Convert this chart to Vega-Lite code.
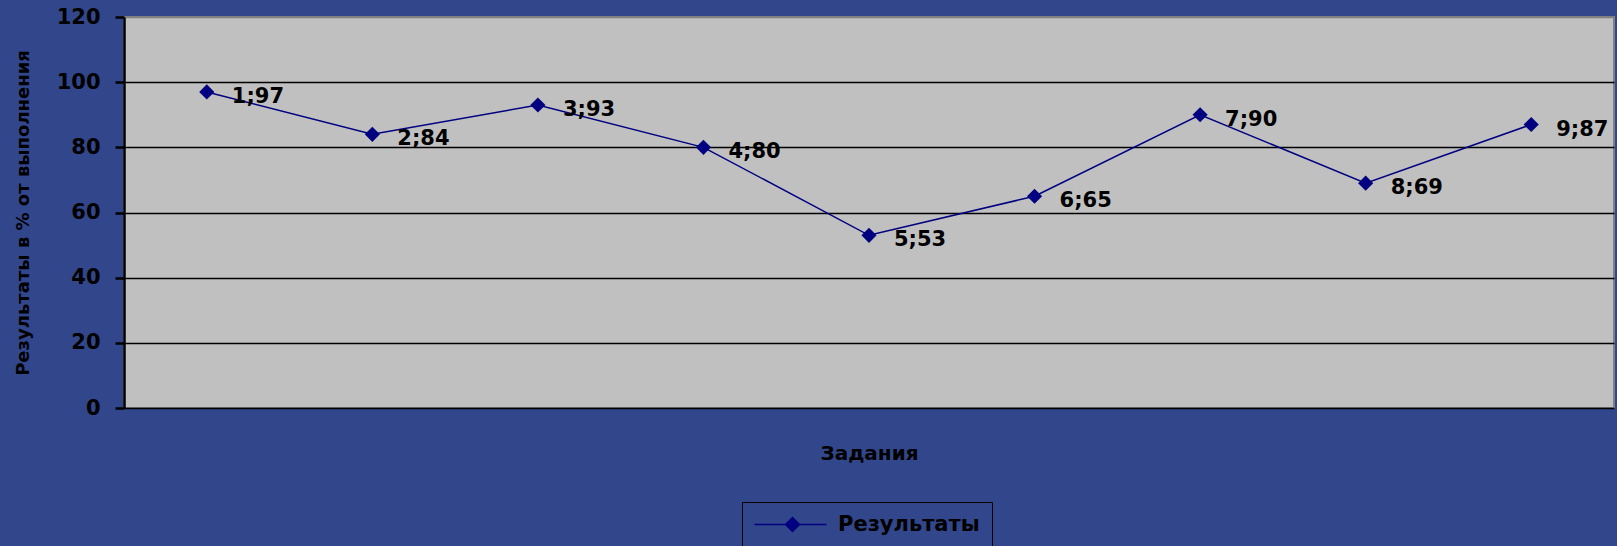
{
  "$schema": "https://vega.github.io/schema/vega-lite/v6.json",
  "width": 1490,
  "height": 391,
  "autosize": {"type": "none"},
  "padding": {"left": 124, "top": 17, "right": 3, "bottom": 138},
  "background": "#32468c",
  "config": {
    "view": {"fill": "#c0c0c0", "stroke": "#808080", "strokeWidth": 2},
    "font": "DejaVu Sans"
  },
  "data": {
    "values": [
      {"task": 1, "value": 97, "label": "1;97", "series": "Результаты"},
      {"task": 2, "value": 84, "label": "2;84", "series": "Результаты"},
      {"task": 3, "value": 93, "label": "3;93", "series": "Результаты"},
      {"task": 4, "value": 80, "label": "4;80", "series": "Результаты"},
      {"task": 5, "value": 53, "label": "5;53", "series": "Результаты"},
      {"task": 6, "value": 65, "label": "6;65", "series": "Результаты"},
      {"task": 7, "value": 90, "label": "7;90", "series": "Результаты"},
      {"task": 8, "value": 69, "label": "8;69", "series": "Результаты"},
      {"task": 9, "value": 87, "label": "9;87", "series": "Результаты"}
    ]
  },
  "encoding": {
    "x": {
      "field": "task",
      "type": "quantitative",
      "scale": {"domain": [0.5, 9.5], "nice": false, "zero": false},
      "axis": {
        "labels": false,
        "ticks": false,
        "domain": false,
        "grid": false,
        "title": "Задания",
        "titleFont": "DejaVu Sans",
        "titleFontSize": 20,
        "titleFontWeight": "bold",
        "titleColor": "black",
        "titlePadding": 35
      }
    },
    "y": {
      "field": "value",
      "type": "quantitative",
      "scale": {"domain": [0, 120], "nice": false},
      "axis": {
        "values": [0, 20, 40, 60, 80, 100, 120],
        "grid": true,
        "gridColor": {"condition": {"test": "datum.value === 120", "value": "#808080"}, "value": "black"},
        "gridWidth": 1.5,
        "gridOpacity": 1,
        "domain": true,
        "domainColor": "black",
        "domainWidth": 2.5,
        "ticks": true,
        "tickColor": "black",
        "tickWidth": 2.5,
        "tickSize": 9,
        "labelPadding": 15,
        "labelFont": "DejaVu Sans",
        "labelFontSize": 21,
        "labelFontWeight": "bold",
        "labelColor": "black",
        "title": "Результаты в % от выполнения",
        "titleFont": "DejaVu Sans",
        "titleFontSize": 18,
        "titleFontWeight": "bold",
        "titleColor": "black",
        "titlePadding": 24
      }
    }
  },
  "layer": [
    {
      "mark": {
        "type": "line",
        "strokeWidth": 1.5,
        "point": {"shape": "diamond", "size": 230, "filled": true, "color": "#000080"}
      },
      "encoding": {
        "color": {
          "field": "series",
          "type": "nominal",
          "scale": {"range": ["#000080"]},
          "legend": {
            "title": null,
            "orient": "none",
            "legendX": 618,
            "legendY": 485,
            "strokeColor": "black",
            "padding": 12,
            "symbolType": "M-10,0L62,0M28,-7L35,0L28,7L21,0Z",
            "symbolSize": 4,
            "symbolStrokeWidth": 1.5,
            "symbolFillColor": "#000080",
            "symbolStrokeColor": "#000080",
            "labelFont": "DejaVu Sans",
            "labelFontSize": 21,
            "labelFontWeight": "bold",
            "labelColor": "black",
            "labelOffset": 63
          }
        }
      }
    },
    {
      "mark": {
        "type": "text",
        "align": "left",
        "baseline": "middle",
        "dx": 25,
        "dy": 5,
        "fontSize": 21,
        "fontWeight": "bold",
        "font": "DejaVu Sans",
        "color": "black"
      },
      "encoding": {"text": {"field": "label"}}
    }
  ]
}
